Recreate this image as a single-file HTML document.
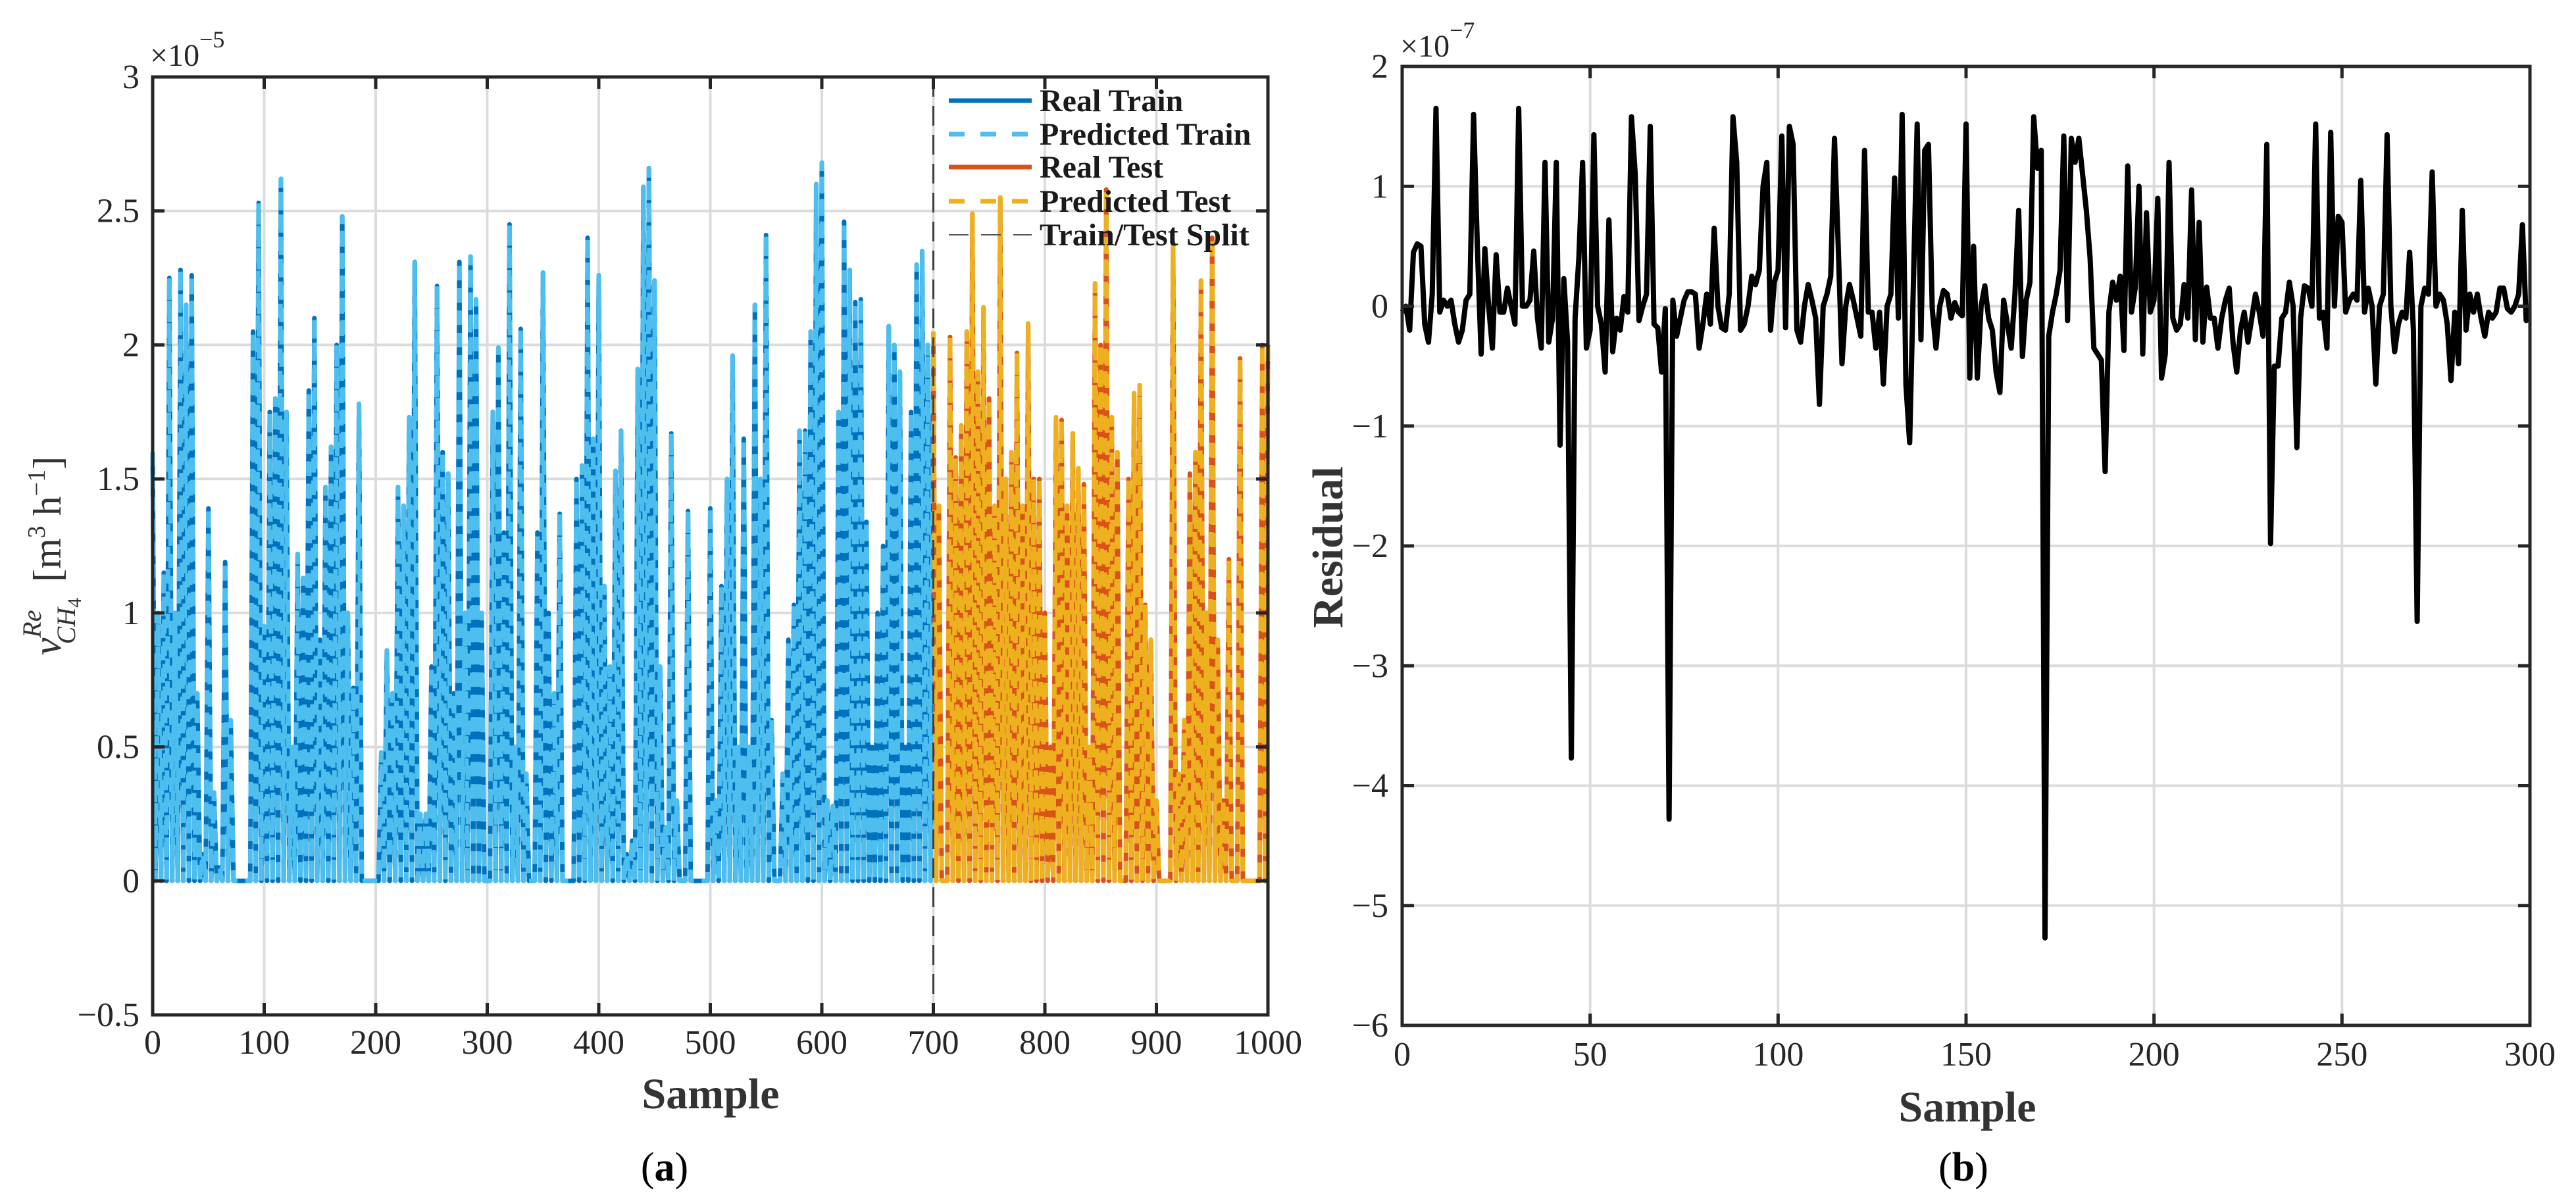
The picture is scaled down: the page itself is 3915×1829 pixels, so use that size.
<!DOCTYPE html>
<html><head><meta charset="utf-8"><style>
html,body{margin:0;padding:0;background:#fff;}
svg{display:block;font-family:"Liberation Serif",serif;}
</style></head><body>
<svg id="fig" width="3915" height="1829" viewBox="0 0 3915 1829" xmlns="http://www.w3.org/2000/svg">
<rect width="3915" height="1829" fill="#fff"/>
<g id="pa"></g>
<g id="pb"></g>
</svg>
<script>
// Panel A data: peak values (x1e-5) per 5-sample block
const blockStep = 5;
const trainPeaks = [1.6,1.0,1.15,2.25,1.0,2.28,2.15,2.26,0.7,0.1,1.39,0.33,0.05,1.19,0.6,0.0,0.0,0.0,2.05,2.53,
0.95,1.75,1.8,2.62,1.75,0.5,1.22,1.13,1.83,2.1,0.9,1.47,1.62,2.0,2.48,1.0,0.72,1.78,0.0,0.0,
0.0,0.48,0.86,0.7,1.47,1.4,1.73,2.31,0.25,0.25,0.8,2.22,1.6,1.52,0.7,2.31,1.0,2.33,2.17,1.0,
0.0,1.75,1.99,1.3,2.45,0.5,2.06,0.4,0.0,1.3,2.27,1.0,0.7,1.37,0.0,0.0,1.5,1.55,2.4,1.65,
2.26,1.1,0.8,1.53,1.68,0.1,0.15,1.91,2.59,2.66,2.24,0.8,0.2,1.67,0.3,0.0,1.38,0.0,0.0,0.0,
1.39,0.3,1.1,1.5,1.96,0.5,1.65,0.5,2.15,1.5,2.41,0.6,0.0,0.4,0.9,1.03,1.68,1.68,2.05,2.6,
2.68,0.3,0.28,1.75,2.46,2.28,2.16,2.17,1.34,0.5,1.0,1.25,2.07,2.0,1.9,0.5,1.75,2.3,2.35,2.0];
const testPeaks = [2.05,1.4,0.0,2.03,1.58,1.7,2.05,2.49,1.9,2.14,1.8,1.4,2.55,1.5,1.6,1.97,1.4,2.08,1.5,1.5,
1.0,0.5,1.73,1.72,1.4,1.67,1.54,1.48,0.5,2.23,2.0,2.58,1.73,1.6,0.0,1.5,1.82,1.85,1.03,0.9,
0.3,0.0,0.0,2.38,0.4,0.6,1.52,1.6,2.24,1.0,2.4,0.9,0.3,1.2,0.0,1.95,0.0,0.0,0.0,2.0];
const splitSample = 700;
const aXTicks = [0,100,200,300,400,500,600,700,800,900,1000];
const aYTicks = [-0.5,0,0.5,1,1.5,2,2.5,3];
const aYTickLabels = ["\u22120.5","0","0.5","1","1.5","2","2.5","3"];
// Panel B data: residuals (x1e-7), sample 0..300
const residuals = [-0.05,0,-0.2,0.45,0.52,0.5,-0.15,-0.3,0.1,1.65,-0.05,0.05,0,0.05,-0.15,-0.3,-0.2,0.05,0.1,1.6,
0.5,-0.4,0.48,0,-0.35,0.43,-0.05,-0.05,0.15,0,-0.15,1.65,0,0,0.05,0.46,-0.1,-0.35,1.2,-0.3,
-0.1,1.2,-1.16,0.23,-0.3,-3.77,-0.1,0.4,1.2,-0.35,-0.2,1.43,0,-0.15,-0.55,0.72,-0.38,-0.1,-0.2,0.08,
-0.05,1.58,1.1,-0.12,0,0.1,1.5,-0.15,-0.18,-0.55,-0.02,-4.28,0.05,-0.25,-0.1,0.05,0.12,0.12,0.1,-0.35,
-0.15,0.1,-0.15,0.65,0,-0.18,-0.2,0.1,1.58,1.2,-0.2,-0.15,0,0.25,0.18,0.3,1.0,1.2,-0.2,0.2,
0.3,1.42,-0.18,1.5,1.35,-0.2,-0.3,0,0.18,0.05,-0.1,-0.82,0,0.1,0.25,1.4,0.5,-0.48,0,0.18,
0.05,-0.1,-0.25,1.3,-0.05,-0.05,-0.35,-0.05,-0.65,0,0.1,1.07,-0.1,1.6,-0.65,-1.14,0.2,1.52,-0.28,1.3,
1.35,-0.02,-0.35,0,0.13,0.1,-0.1,0.03,-0.05,-0.08,1.52,-0.6,0.5,-0.6,0,0.17,-0.1,-0.2,-0.55,-0.72,
0.05,-0.15,-0.35,0.1,0.8,-0.42,0.05,0.2,1.58,1.15,1.3,-5.27,-0.25,-0.05,0.1,0.3,1.42,-0.12,1.4,1.2,
1.4,1.1,0.8,0.4,-0.35,-0.4,-0.45,-1.38,-0.05,0.2,0.05,0.25,-0.37,1.17,-0.05,0.15,1.0,-0.4,0.78,-0.05,
0.05,0.9,-0.6,-0.4,1.2,-0.1,-0.2,-0.15,0.18,-0.1,0.97,-0.28,0.7,-0.3,0.16,-0.1,-0.1,-0.35,-0.1,0.05,
0.15,-0.3,-0.55,-0.2,-0.05,-0.3,-0.1,0.1,-0.05,-0.25,1.35,-1.98,-0.5,-0.5,-0.1,-0.05,0.2,0,-1.18,-0.1,
0.17,0.15,0,1.52,-0.1,-0.05,-0.35,1.45,0,0.75,0.7,-0.05,0.05,0.1,0.05,1.05,-0.05,0.15,0,-0.65,
0,0.1,1.43,0,-0.38,-0.15,-0.05,-0.1,0.45,-0.2,-2.63,0,0.15,0.1,1.12,0,0.1,0.05,-0.15,-0.62,
-0.05,-0.48,0.8,-0.2,0.1,-0.05,0.1,-0.1,-0.25,-0.05,-0.1,-0.05,0.15,0.15,-0.02,-0.05,0,0.1,0.68,-0.12,-0.1];
const bXTicks = [0,50,100,150,200,250,300];
const bYTicks = [-6,-5,-4,-3,-2,-1,0,1,2];
const bYTickLabels = ["\u22126","\u22125","\u22124","\u22123","\u22122","\u22121","0","1","2"];

const NS="http://www.w3.org/2000/svg";
function mk(tag,attrs,parent,txt){const e=document.createElementNS(NS,tag);for(const k in attrs)e.setAttribute(k,attrs[k]);if(txt!==undefined)e.textContent=txt;parent.appendChild(e);return e;}

// ---------- Panel A ----------
const pa=document.getElementById('pa');
const A={l:232,r:1927,t:117,b:1543,x0:0,x1:1000,y0:-0.5,y1:3};
const ax=v=>A.l+(v-A.x0)/(A.x1-A.x0)*(A.r-A.l);
const ay=v=>A.b-(v-A.y0)/(A.y1-A.y0)*(A.b-A.t);
aXTicks.forEach(v=>{const g=mk('line',{x1:ax(v),x2:ax(v),y1:A.t,y2:A.b,stroke:'#dcdcdc','stroke-width':4},pa);

});
aYTicks.forEach(v=>{const g=mk('line',{x1:A.l,x2:A.r,y1:ay(v),y2:ay(v),stroke:'#dcdcdc','stroke-width':4},pa);

});
function seriesPath(peaks,startSample){let d='';peaks.forEach((p,i)=>{const s=startSample+i*blockStep;
d+=(i===0?'M':'L')+ax(s)+','+ay(p)+'L'+ax(s+blockStep/2)+','+ay(0);});
d+='L'+ax(startSample+peaks.length*blockStep)+','+ay(peaks[peaks.length-1]);return d;}
const trD=seriesPath(trainPeaks,0), teD=seriesPath(testPeaks,splitSample);
let p=mk('path',{d:trD,fill:'none',stroke:'#0072bd','stroke-width':7,'stroke-linejoin':'round'},pa);


p=mk('path',{d:trD,fill:'none',stroke:'#4dbeee','stroke-width':7,'stroke-dasharray':'22 12','stroke-linejoin':'round'},pa);


p=mk('path',{d:teD,fill:'none',stroke:'#d95319','stroke-width':7,'stroke-linejoin':'round'},pa);


p=mk('path',{d:teD,fill:'none',stroke:'#edb120','stroke-width':7,'stroke-dasharray':'22 12','stroke-linejoin':'round'},pa);


p=mk('line',{x1:ax(splitSample),x2:ax(splitSample),y1:A.t,y2:A.b,stroke:'#404040','stroke-width':3,'stroke-dasharray':'30 14'},pa);


p=mk('rect',{x:A.l,y:A.t,width:A.r-A.l,height:A.b-A.t,fill:'none',stroke:'#262626','stroke-width':5},pa);


aXTicks.forEach(v=>{mk('line',{x1:ax(v),x2:ax(v),y1:A.b,y2:A.b-18,stroke:'#262626','stroke-width':5},pa);mk('line',{x1:ax(v),x2:ax(v),y1:A.t,y2:A.t+18,stroke:'#262626','stroke-width':5},pa);
const t=mk('text',{x:ax(v),y:1602,'text-anchor':'middle','font-size':52,fill:'#262626'},pa,String(v));

});
aYTicks.forEach((v,i)=>{mk('line',{x1:A.l,x2:A.l+18,y1:ay(v),y2:ay(v),stroke:'#262626','stroke-width':5},pa);mk('line',{x1:A.r,x2:A.r-18,y1:ay(v),y2:ay(v),stroke:'#262626','stroke-width':5},pa);
const t=mk('text',{x:212,y:ay(v)+17,'text-anchor':'end','font-size':52,fill:'#262626'},pa,aYTickLabels[i]);

});
// legend
const legItems=[["Real Train","#0072bd",null,7],["Predicted Train","#4dbeee","24 24",7],["Real Test","#d95319",null,7],["Predicted Test","#edb120","24 24",7],["Train/Test Split","#555","30 19",2]];
const legY=[153,204,254,306,357];
legItems.forEach((it,i)=>{const a={x1:1442,x2:1568,y1:legY[i],y2:legY[i],stroke:it[1],'stroke-width':it[3]};if(it[2])a['stroke-dasharray']=it[2];
const l=mk('line',a,pa);


const t=mk('text',{x:1580,y:legY[i]+16,'font-size':48,'font-weight':'bold',fill:'#1a1a1a'},pa,it[0]);

});
</script>
<script>
// static labels panel A
(function(){const pa=document.getElementById('pa');
pa.insertAdjacentHTML('beforeend',
'<text x="228" y="100" font-size="48" fill="#262626">×10<tspan dy="-28" font-size="36">−5</tspan></text>'+
'<text x="1080" y="1685" text-anchor="middle" font-size="66" font-weight="bold" fill="#333">Sample</text>'+
'<text x="1010" y="1795" text-anchor="middle" font-size="62" fill="#000">(<tspan font-weight="bold">a</tspan>)</text>'+
'<text transform="translate(92,845) rotate(-90)" text-anchor="middle" font-size="60" fill="#333"><tspan font-style="italic">v</tspan><tspan font-style="italic" font-size="40" dy="-30">Re</tspan><tspan font-style="italic" font-size="40" dx="-52" dy="52">CH</tspan><tspan font-size="30" dy="9">4</tspan><tspan dy="-31" dx="24">[m</tspan><tspan font-size="38" dy="-24">3</tspan><tspan dy="24"> h</tspan><tspan font-size="38" dy="-24">−1</tspan><tspan dy="24">]</tspan></text>');
})();
</script>
<script>
// ---------- Panel B ----------
(function(){
const pb=document.getElementById('pb');
const B={l:2131,r:3845,t:101,b:1559,x0:0,x1:300,y0:-6,y1:2};
const bx=v=>B.l+(v-B.x0)/(B.x1-B.x0)*(B.r-B.l);
const by=v=>B.b-(v-B.y0)/(B.y1-B.y0)*(B.b-B.t);
bXTicks.forEach(v=>{const g=mk('line',{x1:bx(v),x2:bx(v),y1:B.t,y2:B.b,stroke:'#dcdcdc','stroke-width':4},pb);

});
bYTicks.forEach(v=>{const g=mk('line',{x1:B.l,x2:B.r,y1:by(v),y2:by(v),stroke:'#dcdcdc','stroke-width':4},pb);

});
let d='';residuals.forEach((r,i)=>{d+=(i?'L':'M')+bx(i)+','+by(r);});
const ln=mk('path',{d:d,fill:'none',stroke:'#000','stroke-width':8,'stroke-linejoin':'round'},pb);


const bx2=mk('rect',{x:B.l,y:B.t,width:B.r-B.l,height:B.b-B.t,fill:'none',stroke:'#262626','stroke-width':5},pb);


bXTicks.forEach(v=>{mk('line',{x1:bx(v),x2:bx(v),y1:B.b,y2:B.b-18,stroke:'#262626','stroke-width':5},pb);mk('line',{x1:bx(v),x2:bx(v),y1:B.t,y2:B.t+18,stroke:'#262626','stroke-width':5},pb);
const t=mk('text',{x:bx(v),y:1620,'text-anchor':'middle','font-size':52,fill:'#262626'},pb,String(v));

});
bYTicks.forEach((v,i)=>{mk('line',{x1:B.l,x2:B.l+18,y1:by(v),y2:by(v),stroke:'#262626','stroke-width':5},pb);mk('line',{x1:B.r,x2:B.r-18,y1:by(v),y2:by(v),stroke:'#262626','stroke-width':5},pb);
const t=mk('text',{x:2110,y:by(v)+17,'text-anchor':'end','font-size':52,fill:'#262626'},pb,bYTickLabels[i]);

});
pb.insertAdjacentHTML('beforeend',
'<text x="2128" y="86" font-size="48" fill="#262626">×10<tspan dy="-28" font-size="36">−7</tspan></text>'+
'<text x="2990" y="1705" text-anchor="middle" font-size="66" font-weight="bold" fill="#333">Sample</text>'+
'<text x="2984" y="1795" text-anchor="middle" font-size="62" fill="#000">(<tspan font-weight="bold">b</tspan>)</text>'+
'<text transform="translate(2040,832) rotate(-90)" text-anchor="middle" font-size="66" font-weight="bold" fill="#333">Residual</text>');
})();
</script>
</body></html>
